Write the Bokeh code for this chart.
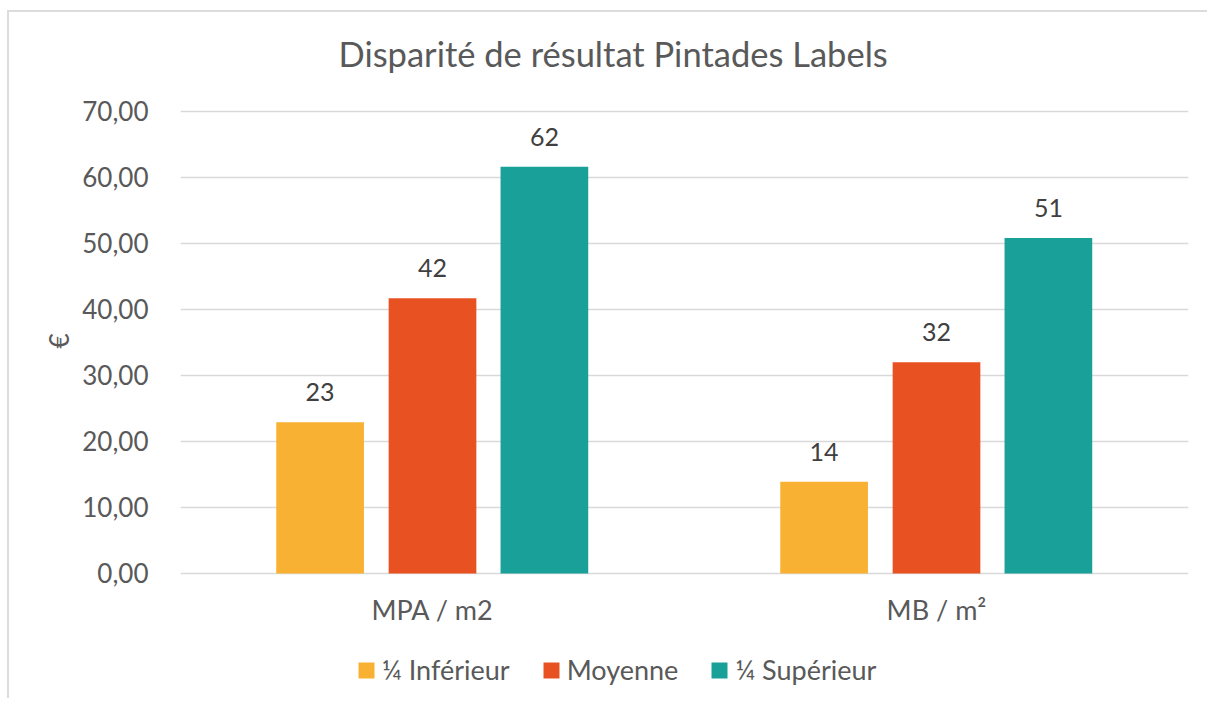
from bokeh.plotting import figure
from bokeh.models import (ColumnDataSource, FactorRange, Range1d, FixedTicker,
                          LabelSet, Legend, LegendItem, Title)
from bokeh.core.properties import value
from bokeh.transform import dodge
from bokeh.embed import file_html
from bokeh.resources import INLINE

categories = ["MPA / m2", "MB / m²"]
series_names = ["¼ Inférieur", "Moyenne", "¼ Supérieur"]
inferieur = [22.9, 13.9]
moyenne = [41.7, 32.0]
superieur = [61.6, 50.8]
y_ticks = [0, 10, 20, 30, 40, 50, 60, 70]
y_tick_labels = ["0,00", "10,00", "20,00", "30,00", "40,00", "50,00", "60,00", "70,00"]
colors = ["#F8B133", "#E85223", "#19A098"]
title_text = "Disparité de résultat Pintades Labels"
y_label = "€"

FONT = "Lato"
TXT = "#595959"

# the frame reaches down to the bottom so the legend can live inside it
p = figure(x_range=FactorRange(*categories), y_range=Range1d(-19.24, 73),
           width=1200, height=688, output_backend="svg", toolbar_location=None,
           min_border_left=171, min_border_right=21, min_border_top=79,
           min_border_bottom=0, outline_line_color=None)

p.styles = {"margin-left": "7px", "margin-top": "10px",
            "border-left": "2px solid #dcdcdc", "border-top": "2px solid #dcdcdc"}

p.title.text = title_text
p.title.text_font = FONT
p.title.text_font_size = "34.5px"
p.title.text_font_style = "normal"
p.title.text_color = TXT
p.title.align = "left"
p.title.offset = 158
p.title.standoff = 35

series = [inferieur, moyenne, superieur]
offsets = [-0.223, 0.0, 0.222]
items = []
for name, vals, col, off in zip(series_names, series, colors, offsets):
    src = ColumnDataSource(dict(cat=categories, val=vals,
                                lab=[str(int(round(v))) for v in vals]))
    r = p.vbar(x=dodge("cat", off, range=p.x_range), top="val", width=0.174,
               source=src, fill_color=col, line_color=None)
    items.append(LegendItem(label=name, renderers=[r]))
    p.add_layout(LabelSet(x=dodge("cat", off, range=p.x_range), y="val", text="lab",
                          source=src, text_align="center", text_baseline="alphabetic",
                          y_offset=21, text_font=value(FONT), text_font_size=value("25px"),
                          text_color="#404040"))

legend = Legend(items=items, orientation="horizontal", location=(176, 14),
                border_line_color=None, background_fill_alpha=0,
                padding=0, margin=0, spacing=31, glyph_width=20, glyph_height=20,
                label_height=26, label_standoff=6, label_text_font=FONT,
                label_text_font_size="27px", label_text_color=TXT)
p.add_layout(legend)

p.ygrid.grid_line_color = "#d9d9d9"
p.ygrid.grid_line_width = 1.5
p.xgrid.grid_line_color = None

p.yaxis.ticker = FixedTicker(ticks=y_ticks)
p.yaxis.major_label_overrides = {t: l for t, l in zip(y_ticks, y_tick_labels)}
for ax in (p.xaxis[0], p.yaxis[0]):
    ax.axis_line_color = None
    ax.major_tick_line_color = None
    ax.minor_tick_line_color = None
    ax.major_label_text_font = FONT
    ax.major_label_text_color = TXT
p.yaxis.major_label_text_font_size = "26px"
p.yaxis.major_label_standoff = 26
p.xaxis.fixed_location = 0
p.xaxis.major_label_text_font_size = "27px"
p.xaxis.major_label_standoff = 14

ylab = Title(text=y_label, align="left", offset=352, standoff=10,
             text_font=FONT, text_font_size="26px", text_font_style="normal",
             text_color=TXT)
p.add_layout(ylab, "left")

open("out.html", "w").write(file_html(p, INLINE))
